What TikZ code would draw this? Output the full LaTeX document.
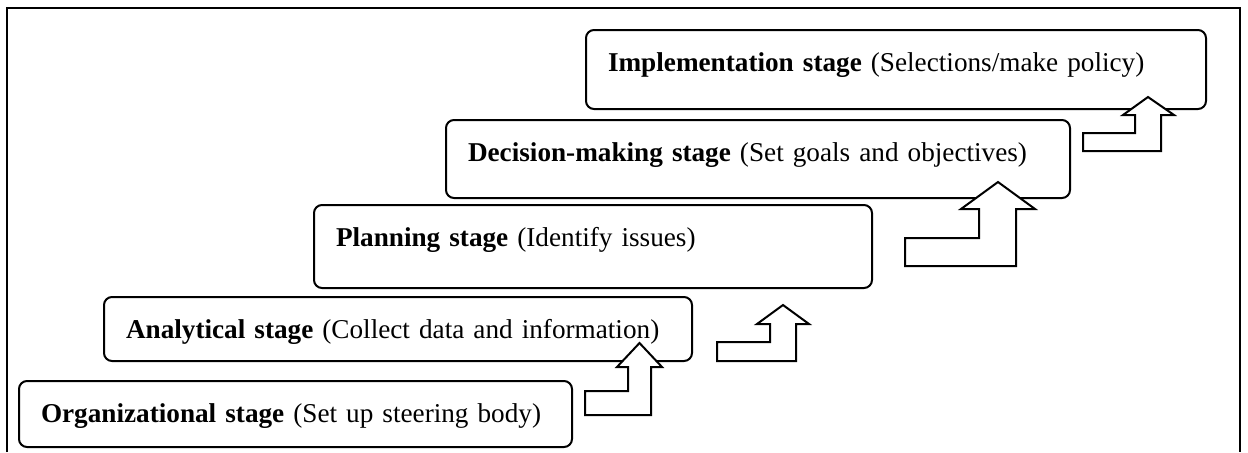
\documentclass[tikz,border=0pt]{standalone}
\usepackage{fontspec}
\setmainfont{Liberation Serif}

\begin{document}
\begin{tikzpicture}[
  x=0.5pt, y=-0.5pt,
  font=\fontsize{13.6}{16.5}\selectfont,
  stage/.style={draw, line width=1pt, rounded corners=4pt, anchor=north west, align=left,
    inner xsep=11pt, inner ysep=4pt, text height=16.5pt},
  bentup/.style={draw, line width=1pt, fill=white, line join=miter},
  frame/.style={line width=1.3pt}
]
\useasboundingbox (0,0) rectangle (1248,452);

% open frame, no bottom edge
\draw[frame] (7,452) -- (7,8) -- (1240,8) -- (1240,452);

% the five stages, stepping up to the right (\mbox keeps each on one line)
\node[stage, text width=254.5pt, text depth=8.5pt] (org) at (18,380)
  {\mbox{\textbf{Organizational stage} (Set up steering body)}};
\node[stage, text width=272pt, text depth=7.5pt] (anal) at (103,296)
  {\mbox{\textbf{Analytical stage} (Collect data and information)}};
\node[stage, text width=257pt, text depth=17pt] (plan) at (313,204)
  {\mbox{\textbf{Planning stage} (Identify issues)}};
\node[stage, text width=290pt, text depth=14.5pt] (dec) at (445,119)
  {\mbox{\textbf{Decision-making stage} (Set goals and objectives)}};
\node[stage, text width=288pt, text depth=15pt] (impl) at (585,29)
  {\mbox{\textbf{Implementation stage} (Selections/make policy)}};

% bent-up arrows between the steps
\draw[bentup] (585,415) -- (585,391) -- (628,391) -- (628,367) -- (617,367)
  -- (639.5,343) -- (662,367) -- (651,367) -- (651,415) -- cycle;
\draw[bentup] (717,361) -- (717,342) -- (770,342) -- (770,324) -- (757,324)
  -- (783,305) -- (809,324) -- (796,324) -- (796,361) -- cycle;
\draw[bentup] (905,266) -- (905,238) -- (979,238) -- (979,209) -- (961,209)
  -- (998,182) -- (1035,209) -- (1016,209) -- (1016,266) -- cycle;
\draw[bentup] (1083,151) -- (1083,133) -- (1135,133) -- (1135,115) -- (1123,115)
  -- (1148,97) -- (1174,115) -- (1161,115) -- (1161,151) -- cycle;

\end{tikzpicture}
\end{document}
